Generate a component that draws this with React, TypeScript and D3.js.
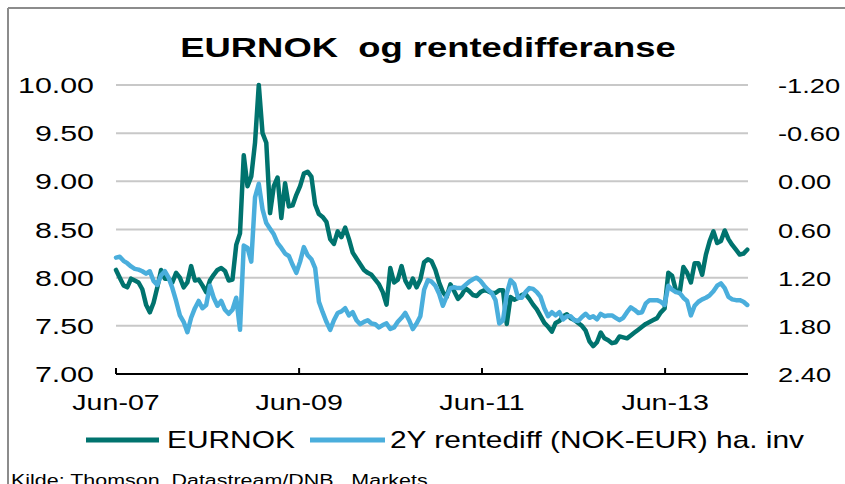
import React from "react";
import * as d3 from "d3";

// Data: semi-monthly observations (every 15 days from 1 Jun 2007)
const startDate = "2007-06-01";
const stepDays = 15;

const eurnok = [
  8.08, 8.00, 7.92, 7.90, 7.99, 7.97, 7.95, 7.88, 7.72, 7.64,
  7.74, 7.90, 8.08, 7.99, 7.99, 7.95, 8.05, 8.00, 7.90, 7.95,
  8.12, 7.97, 7.98, 7.92, 7.85, 7.97, 8.03, 8.08, 8.10, 8.07,
  7.97, 7.98, 8.34, 8.46, 9.27, 8.95, 9.05, 9.40, 10.00, 9.50,
  9.40, 8.67, 8.95, 9.04, 8.62, 8.98, 8.74, 8.75, 8.86, 8.95,
  9.08, 9.10, 9.05, 8.76, 8.66, 8.63, 8.58, 8.40, 8.35, 8.48,
  8.42, 8.52, 8.40, 8.26, 8.20, 8.14, 8.08, 8.05, 8.03, 7.98,
  7.93, 7.85, 7.72, 8.10, 7.95, 7.98, 8.12, 7.97, 7.90, 7.99,
  7.90, 7.98, 8.16, 8.19, 8.17, 8.08, 7.95, 7.85, 7.80, 7.93,
  7.86, 7.78, 7.82, 7.89, 7.86, 7.82, 7.81, 7.85, 7.87, 7.86,
  7.84, 7.84, 7.87, 7.87, 7.52, 7.80, 7.77, 7.79, 7.82, 7.83,
  7.78, 7.72, 7.67, 7.60, 7.53, 7.49, 7.44, 7.53, 7.55, 7.60,
  7.62, 7.58, 7.56, 7.53, 7.50, 7.45, 7.34, 7.29, 7.33, 7.43,
  7.37, 7.35, 7.32, 7.33, 7.39, 7.38, 7.37, 7.40, 7.43, 7.46,
  7.49, 7.52, 7.54, 7.56, 7.58, 7.64, 7.68, 8.05, 8.02, 7.87,
  7.84, 8.11, 8.05, 7.95, 8.15, 8.15, 8.03, 8.24, 8.38, 8.48,
  8.36, 8.38, 8.49, 8.40, 8.34, 8.29, 8.24, 8.25, 8.29,
];

const rentediff = [
  0.95, 0.94, 0.99, 1.02, 1.06, 1.09, 1.10, 1.12, 1.15, 1.12,
  1.24, 1.29, 1.17, 1.12, 1.20, 1.33, 1.49, 1.67, 1.75, 1.88,
  1.70, 1.58, 1.49, 1.58, 1.54, 1.30, 1.45, 1.55, 1.49, 1.60,
  1.65, 1.60, 1.45, 1.85, 0.80, 0.83, 1.00, 0.20, 0.03, 0.35,
  0.52, 0.59, 0.66, 0.77, 0.83, 0.90, 0.93, 1.04, 1.14, 1.00,
  0.82, 0.92, 0.97, 1.08, 1.50, 1.63, 1.75, 1.85, 1.73, 1.64,
  1.62, 1.58, 1.67, 1.63, 1.73, 1.78, 1.75, 1.73, 1.77, 1.78,
  1.82, 1.79, 1.77, 1.84, 1.82, 1.75, 1.70, 1.64, 1.73, 1.84,
  1.77, 1.68, 1.35, 1.23, 1.25, 1.30, 1.40, 1.55, 1.43, 1.33,
  1.32, 1.33, 1.33, 1.29, 1.25, 1.22, 1.20, 1.24, 1.30, 1.35,
  1.39, 1.48, 1.77, 1.73, 1.40, 1.23, 1.28, 1.45, 1.45, 1.38,
  1.33, 1.34, 1.38, 1.44, 1.58, 1.68, 1.63, 1.67, 1.63, 1.72,
  1.68, 1.68, 1.73, 1.74, 1.69, 1.65, 1.70, 1.68, 1.72, 1.65,
  1.68, 1.67, 1.67, 1.70, 1.73, 1.70, 1.63, 1.57, 1.60, 1.64,
  1.63, 1.52, 1.48, 1.48, 1.48, 1.50, 1.54, 1.30, 1.35, 1.38,
  1.39, 1.45, 1.49, 1.67, 1.55, 1.50, 1.47, 1.45, 1.42, 1.37,
  1.30, 1.27, 1.33, 1.44, 1.47, 1.48, 1.48, 1.50, 1.54,
];

const leftTicks = [7.0, 7.5, 8.0, 8.5, 9.0, 9.5, 10.0];
const rightTicks = [-1.2, -0.6, 0.0, 0.6, 1.2, 1.8, 2.4];
const xTickDates = ["2007-06-01", "2009-06-01", "2011-06-01", "2013-06-01"];
const xTickLabels = ["Jun-07", "Jun-09", "Jun-11", "Jun-13"];

const title = "EURNOK  og rentedifferanse";
const seriesNames = ["EURNOK", "2Y rentediff (NOK-EUR) ha. inv"];
const source = "Kilde: Thomson  Datastream/DNB   Markets";

const W = 845;
const H = 484;
const M = { left: 116, right: 748, top: 85, bottom: 374 };
const DARK = "#00736e";
const LIGHT = "#4aaedc";
const FONT = "'Liberation Sans', Arial, sans-serif";
const SX = 1.3;

const parse = d3.utcParse("%Y-%m-%d");

function StretchText({ x, y, children, size, anchor = "start", weight = "normal", sx = SX }: any) {
  return (
    <text
      transform={`translate(${x},${y}) scale(${sx},1)`}
      textAnchor={anchor}
      fontFamily={FONT}
      fontSize={size}
      fontWeight={weight}
      fill="#000"
      xmlSpace="preserve"
      style={{ whiteSpace: "pre" }}
    >
      {children}
    </text>
  );
}

export default function App() {
  const t0 = parse(startDate)!;
  const dates = eurnok.map((_, i) => d3.utcDay.offset(t0, i * stepDays));

  const x = d3
    .scaleUtc()
    .domain([parse("2007-06-01")!, parse("2014-04-28")!])
    .range([M.left, M.right]);
  const yL = d3.scaleLinear().domain([7, 10]).range([M.bottom, M.top]);
  const yR = d3.scaleLinear().domain([2.4, -1.2]).range([M.bottom, M.top]);

  const lineL = d3
    .line<number>()
    .x((_, i) => x(dates[i]))
    .y((d) => yL(d));
  const lineR = d3
    .line<number>()
    .x((_, i) => x(dates[i]))
    .y((d) => yR(d));

  return (
    <svg
      width={W}
      height={H}
      style={{ position: "absolute", left: 0, top: 0, background: "#fff" }}
    >
      <rect x={0} y={0} width={W} height={H} fill="#fff" />
      {/* outer frame */}
      <line x1={8} y1={8} x2={W} y2={8} stroke="#8c8c8c" strokeWidth={2} />
      <line x1={8} y1={8} x2={8} y2={H} stroke="#8c8c8c" strokeWidth={2} />

      <StretchText x={428} y={57} size={28} weight="bold" anchor="middle">
        {title}
      </StretchText>

      {/* gridlines */}
      {leftTicks
        .filter((t) => t > 7)
        .map((t) => (
          <line
            key={"g" + t}
            x1={M.left}
            x2={M.right}
            y1={yL(t)}
            y2={yL(t)}
            stroke="#c8c8c8"
            strokeWidth={2}
          />
        ))}

      {/* left labels */}
      {leftTicks.map((t) => (
        <StretchText key={"l" + t} x={94} y={yL(t) + 8} size={22} sx={1.38} anchor="end">
          {d3.format(".2f")(t)}
        </StretchText>
      ))}
      {/* right labels */}
      {rightTicks.map((t) => (
        <StretchText key={"r" + t} x={778} y={yR(t) + 8} size={21} anchor="start">
          {d3.format(".2f")(t).replace("−", "-")}
        </StretchText>
      ))}

      {/* lines */}
      <path
        d={lineL(eurnok) || ""}
        fill="none"
        stroke={DARK}
        strokeWidth={4.5}
        strokeLinejoin="round"
        strokeLinecap="round"
      />
      <path
        d={lineR(rentediff) || ""}
        fill="none"
        stroke={LIGHT}
        strokeWidth={4.5}
        strokeLinejoin="round"
        strokeLinecap="round"
      />

      {/* x axis */}
      <line x1={M.left} x2={M.right} y1={M.bottom} y2={M.bottom} stroke="#000" strokeWidth={2} />
      {xTickDates.map((d, i) => {
        const xx = x(parse(d)!);
        return (
          <g key={d}>
            <line x1={xx} x2={xx} y1={M.bottom - 6} y2={M.bottom} stroke="#000" strokeWidth={2} />
            <StretchText x={xx} y={410} size={22} anchor="middle">
              {xTickLabels[i]}
            </StretchText>
          </g>
        );
      })}

      {/* legend */}
      <line x1={86} x2={159} y1={440} y2={440} stroke={DARK} strokeWidth={5} />
      <StretchText x={167} y={448} size={23}>
        {seriesNames[0]}
      </StretchText>
      <line x1={310} x2={385} y1={440} y2={440} stroke={LIGHT} strokeWidth={5} />
      <StretchText x={390} y={448} size={23}>
        {seriesNames[1]}
      </StretchText>

      <StretchText x={11} y={486} size={16.5}>
        {source}
      </StretchText>
    </svg>
  );
}
